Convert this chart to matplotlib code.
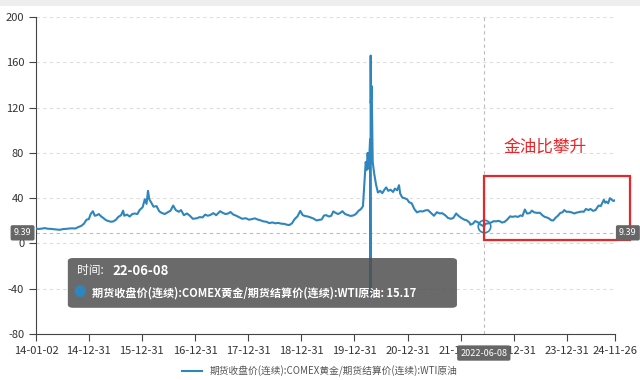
import matplotlib
matplotlib.use('Agg')
import matplotlib.pyplot as plt
import matplotlib.dates as mdates
from matplotlib.patches import FancyBboxPatch, Rectangle
from matplotlib.transforms import blended_transform_factory
import pandas as pd

plt.rcParams['font.family'] = ['Noto Sans CJK SC', 'DejaVu Sans']
plt.rcParams['axes.unicode_minus'] = False

# gold / WTI ratio
dates = [
    '2014-01-02', '2014-01-20', '2014-02-10', '2014-03-03', '2014-03-24', '2014-04-14', '2014-05-05',
    '2014-05-26', '2014-06-16', '2014-07-07', '2014-07-28', '2014-08-18', '2014-09-08', '2014-09-29',
    '2014-10-20', '2014-11-10', '2014-11-28', '2014-12-15', '2014-12-31',
    '2015-01-13', '2015-01-28', '2015-02-10', '2015-02-25', '2015-03-10', '2015-03-25', '2015-04-10',
    '2015-04-28', '2015-05-15', '2015-06-01', '2015-06-18', '2015-07-06', '2015-07-22', '2015-08-10',
    '2015-08-24', '2015-09-01', '2015-09-20', '2015-10-08', '2015-10-26', '2015-11-12', '2015-11-30',
    '2015-12-15',
    '2016-01-05', '2016-01-20', '2016-02-01', '2016-02-11', '2016-02-20', '2016-03-05', '2016-03-20',
    '2016-04-10', '2016-04-28', '2016-05-15', '2016-06-05', '2016-06-25', '2016-07-15', '2016-08-02',
    '2016-08-20', '2016-09-10', '2016-09-25', '2016-10-15', '2016-11-05', '2016-11-25', '2016-12-15',
    '2017-01-10', '2017-02-01', '2017-02-20', '2017-03-10', '2017-03-28', '2017-04-15', '2017-05-05',
    '2017-05-25', '2017-06-21', '2017-07-10', '2017-07-28', '2017-08-15', '2017-08-31', '2017-09-20',
    '2017-10-10', '2017-11-01', '2017-11-20', '2017-12-15',
    '2018-01-05', '2018-01-25', '2018-02-15', '2018-03-05', '2018-03-25', '2018-04-15', '2018-05-05',
    '2018-05-25', '2018-06-15', '2018-07-05', '2018-07-25', '2018-08-15', '2018-09-05', '2018-09-25',
    '2018-10-10', '2018-10-28', '2018-11-15', '2018-12-05', '2018-12-24',
    '2019-01-10', '2019-01-28', '2019-02-15', '2019-03-05', '2019-03-25', '2019-04-15', '2019-05-01',
    '2019-05-20', '2019-06-05', '2019-06-20', '2019-07-10', '2019-07-25', '2019-08-08', '2019-08-25',
    '2019-09-10', '2019-09-25', '2019-10-10', '2019-10-28', '2019-11-15', '2019-12-05', '2019-12-25',
    '2020-01-10', '2020-01-30', '2020-02-15', '2020-02-28', '2020-03-09', '2020-03-18', '2020-03-25',
    '2020-03-31', '2020-04-08', '2020-04-15', '2020-04-17', '2020-04-20', '2020-04-21', '2020-04-22',
    '2020-04-28', '2020-05-05', '2020-05-15', '2020-05-28', '2020-06-10', '2020-06-25', '2020-07-10',
    '2020-07-27', '2020-08-06', '2020-08-20', '2020-09-05', '2020-09-22', '2020-10-05', '2020-10-20',
    '2020-11-02', '2020-11-10', '2020-11-25', '2020-12-10', '2020-12-28',
    '2021-01-10', '2021-01-28', '2021-02-15', '2021-03-05', '2021-03-25', '2021-04-15', '2021-05-01',
    '2021-05-20', '2021-06-10', '2021-06-30', '2021-07-20', '2021-08-10', '2021-08-25', '2021-09-15',
    '2021-10-05', '2021-10-25', '2021-11-10', '2021-11-30', '2021-12-15',
    '2022-01-05', '2022-01-25', '2022-02-10', '2022-03-01', '2022-03-08', '2022-03-25', '2022-04-10',
    '2022-04-28', '2022-05-15', '2022-06-08', '2022-06-22', '2022-07-10', '2022-07-28', '2022-08-15',
    '2022-09-01', '2022-09-15', '2022-09-28', '2022-10-10', '2022-10-28', '2022-11-15', '2022-12-06',
    '2022-12-20',
    '2023-01-10', '2023-01-30', '2023-02-15', '2023-03-01', '2023-03-17', '2023-04-01', '2023-04-20',
    '2023-05-04', '2023-05-20', '2023-06-10', '2023-06-28', '2023-07-15', '2023-07-31', '2023-08-15',
    '2023-08-31', '2023-09-15', '2023-09-28', '2023-10-15', '2023-11-01', '2023-11-16', '2023-12-01',
    '2023-12-13', '2023-12-28',
    '2024-01-15', '2024-02-01', '2024-02-20', '2024-03-05', '2024-03-25', '2024-04-10', '2024-04-25',
    '2024-05-10', '2024-05-28', '2024-06-10', '2024-06-28', '2024-07-15', '2024-08-05', '2024-08-20',
    '2024-09-10', '2024-09-20', '2024-09-28', '2024-10-10', '2024-10-22', '2024-11-05', '2024-11-15',
    '2024-11-26',
]
ratio = [
    13.2, 12.8, 13.1, 13.6, 13.0, 12.9, 12.6,
    12.3, 12.1, 12.7, 12.9, 13.2, 13.4, 13.2,
    14.5, 15.6, 17.5, 21.0, 21.5,
    26.0, 28.5, 24.5, 25.0, 26.0, 24.0, 22.5,
    20.6, 19.8, 19.2, 19.5, 21.0, 23.5, 25.0,
    29.0, 24.5, 25.5, 23.8, 26.0, 26.5, 26.0,
    29.5,
    32.0, 39.0, 35.0, 46.5, 39.0, 36.0, 32.5,
    33.0, 28.5, 27.0, 26.0, 27.5, 29.0, 33.5,
    29.5, 28.0, 29.5, 25.0, 26.5, 24.5, 21.8,
    22.2, 23.3, 23.0, 25.5, 24.5, 25.2, 26.8,
    25.0, 28.5, 27.0, 26.0, 26.5, 27.8, 25.5,
    24.5, 23.0, 21.8, 22.3,
    21.0, 21.5, 22.2, 21.2, 20.5, 19.5, 19.2,
    18.0, 18.6, 17.8, 18.2, 17.5, 17.3, 16.5,
    16.3, 17.8, 21.5, 24.0, 28.8,
    25.0, 24.2, 23.8, 23.0, 22.0, 20.3, 20.8,
    21.2, 24.7, 25.0, 23.8, 24.5, 28.3, 27.0,
    26.0, 27.0, 28.5, 26.0, 25.2, 24.3, 24.8,
    26.0, 29.0, 30.5, 33.0, 54.0, 72.0, 65.0,
    80.0, 66.0, 87.0, 92.0, -45.5, 166.0, 124.0,
    139.0, 72.0, 62.0, 52.0, 45.0, 46.5, 44.5,
    48.0, 49.5, 46.5, 47.5, 45.5, 48.5, 47.0,
    51.5, 44.0, 40.5, 40.0, 39.0,
    36.5, 35.5, 30.5, 27.5, 28.5, 28.3, 29.2,
    29.5, 27.0, 24.5, 27.6, 26.5, 26.8, 25.0,
    22.5, 21.8, 22.5, 26.5, 24.5,
    22.5, 21.0, 20.5, 18.5, 16.6, 17.5, 19.8,
    18.7, 16.8, 15.17, 17.5, 17.8, 18.5, 19.7,
    19.5, 20.0, 19.5, 18.5, 19.0, 21.0, 24.0,
    23.5,
    24.0, 23.5, 24.8, 24.3, 30.0, 26.5, 26.8,
    29.0, 27.5, 27.0, 27.2, 25.0, 23.5, 23.0,
    22.0, 20.5, 20.3, 22.8, 24.7, 27.0, 27.5,
    29.5, 28.0,
    28.0, 27.5, 26.5, 27.2, 27.8, 28.2, 28.0,
    30.5, 29.5, 30.5, 28.8, 29.5, 33.5, 33.0,
    38.6, 36.0, 37.0, 35.5, 40.0, 38.5, 37.5,
    38.2,
]
tick_dates = ['2014-01-02', '2014-12-31', '2015-12-31', '2016-12-31', '2017-12-31', '2018-12-31',
              '2019-12-31', '2020-12-31', '2021-12-31', '2022-12-31', '2023-12-31', '2024-11-26']
series_name = '期货收盘价(连续):COMEX黄金/期货结算价(连续):WTI原油'
hover_date = '2022-06-08'
hover_value = 15.17
cursor_value = 9.39

x = pd.to_datetime(dates)
xt = pd.to_datetime(tick_dates)
hx = pd.Timestamp(hover_date)

line_c = '#2e86bd'
fig = plt.figure(figsize=(6.4, 3.8), dpi=100)
ax = fig.add_axes([0.05625, 0.121, 0.9047, 0.834])

ax.plot(x, ratio, color=line_c, lw=1.5, label=series_name, zorder=3)
ax.plot([hx], [hover_value], marker='o', ms=9, mfc='none', mec=line_c, mew=1.2, zorder=4)

ax.set_ylim(-80, 200)
ax.set_yticks(range(-80, 201, 40))
ax.set_xlim(xt[0], xt[-1])
ax.set_xticks(xt)
ax.set_xticklabels([d.strftime('%y-%m-%d') for d in xt])
ax.grid(axis='y', ls=(0, (3, 3)), color='#dddddd', lw=0.8)
ax.grid(axis='x', visible=False)
for s in ['top', 'right']:
    ax.spines[s].set_visible(False)
for s in ['left', 'bottom']:
    ax.spines[s].set_color('#444444')
ax.tick_params(colors='#444444', labelsize=8, length=5, width=0.8, labelcolor='#333333')

# crosshair
ax.axvline(hx, color='#bbbbbb', lw=0.8, ls=(0, (3, 3)), zorder=2)
ax.axhline(cursor_value, color='#bbbbbb', lw=0.8, ls=(0, (3, 3)), zorder=2)
box = dict(boxstyle='round,pad=0.35,rounding_size=0.2', fc='#666666', ec='none')
yb = blended_transform_factory(ax.transAxes, ax.transData)
ax.text(-0.008, cursor_value, f'{cursor_value:.2f}', transform=yb, ha='right', va='center',
        fontsize=6.5, color='white', bbox=box, clip_on=False, zorder=6)
ax.text(1.007, cursor_value, f'{cursor_value:.2f}', transform=yb, ha='left', va='center',
        fontsize=6.5, color='white', bbox=box, clip_on=False, zorder=6)
xb = blended_transform_factory(ax.transData, ax.transAxes)
ax.text(hx, -0.06, hover_date, transform=xb, ha='center', va='center',
        fontsize=6.5, color='white', bbox=box, clip_on=False, zorder=6)

# highlight box and note
ax.add_patch(Rectangle((mdates.date2num(hx), 3.5),
                       mdates.date2num(pd.Timestamp('2025-03-10')) - mdates.date2num(hx), 56.5,
                       fill=False, ec='#e8262a', lw=1.6, clip_on=False, zorder=5))
ax.text(pd.Timestamp('2023-08-05'), 85, '金油比攀升', color='#e8262a', fontsize=12,
        ha='center', va='center')

# tooltip
tip = FancyBboxPatch((0.106, 0.19), 0.608, 0.131, boxstyle='round,pad=0,rounding_size=0.008',
                     transform=fig.transFigure, fc='#505050', ec='none', alpha=0.85, zorder=10)
fig.patches.append(tip)
fig.text(0.121, 0.287, '时间: ', color='white', fontsize=8.5, va='center', zorder=11)
fig.text(0.175, 0.287, '22-06-08', color='white', fontsize=9.5, fontweight='bold',
         va='center', zorder=11)
fig.text(0.125, 0.229, '●', color=line_c, fontsize=9, va='center', ha='center', zorder=11)
fig.text(0.143, 0.229, f'{series_name}: {hover_value}', color='white', fontsize=8,
         fontweight='bold', va='center', zorder=11)

# top strip
fig.patches.append(Rectangle((0, 0.985), 1, 0.015, transform=fig.transFigure,
                             fc='#eeeeee', ec='none'))

fig.legend(loc='center', bbox_to_anchor=(0.5, 0.022), frameon=False, fontsize=7,
           handlelength=2.0, labelcolor='#555555')

fig.savefig('out.png', dpi=100)
